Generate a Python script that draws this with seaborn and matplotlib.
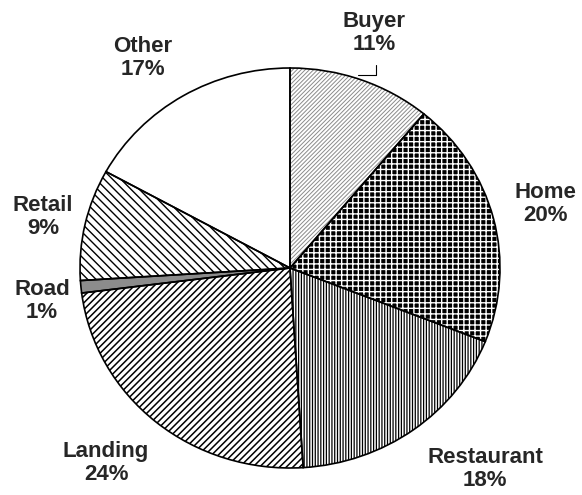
import matplotlib
matplotlib.use("Agg")
import matplotlib.pyplot as plt
import seaborn as sns

# slice data, clockwise from 12 o'clock
categories = ["Buyer", "Home", "Restaurant", "Landing", "Road", "Retail", "Other"]
shares = [11, 20, 18, 24, 1, 9, 17]

# look of each slice (hatch colour comes from the edge colour)
hatches = ["////////", "+++", "||||||", "/////", "", "\\\\\\\\", ""]
hatch_colors = ["#8a8a8a", "white", "black", "black", "#7a7a7a", "black", "white"]
hatch_widths = [0.7, 1.0, 0.9, 1.1, 1.0, 1.0, 1.0]
fills = ["white", "black", "white", "white", "#8c8c8c", "white", "white"]

# label centre points (axes data units)
label_xy = [(0.40, 1.175), (1.217, 0.32), (0.929, -1.005), (-0.876, -0.975),
            (-1.181, -0.165), (-1.176, 0.255), (-0.70, 1.05)]

sns.set_style("white")
plt.rcParams["font.family"] = ["Liberation Sans", "DejaVu Sans"]
plt.rcParams["hatch.linewidth"] = 1.0

fig = plt.figure(figsize=(5.82, 4.95), dpi=100)
ax = fig.add_axes([80 / 582, 27 / 495, 420 / 582, 400 / 495])

wedges, _ = ax.pie(shares, startangle=90, counterclock=False, radius=1)
for w, h, hc, hw, fc in zip(wedges, hatches, hatch_colors, hatch_widths, fills):
    w.set_facecolor(fc)
    w.set_hatch(h)
    w.set_edgecolor(hc)
    w.set_linewidth(0)
    if hasattr(w, "set_hatch_linewidth"):
        w.set_hatch_linewidth(hw)

# outlines on top
ax.pie(shares, startangle=90, counterclock=False, radius=1,
       wedgeprops=dict(facecolor="none", edgecolor="black", linewidth=1.2))

for name, val, (x, y) in zip(categories, shares, label_xy):
    ax.text(x, y, f"{name}\n{val}%", ha="center", va="center",
            fontsize=16, fontweight="bold", linespacing=1.1)

# leader line for Buyer
ax.plot([0.41, 0.41, 0.324], [1.015, 0.965, 0.965], color="black", lw=0.8, clip_on=False)

ax.set_aspect("auto")
ax.set_xlim(-1, 1)
ax.set_ylim(-1, 1)
ax.axis("off")

fig.savefig("out.png", dpi=100)
